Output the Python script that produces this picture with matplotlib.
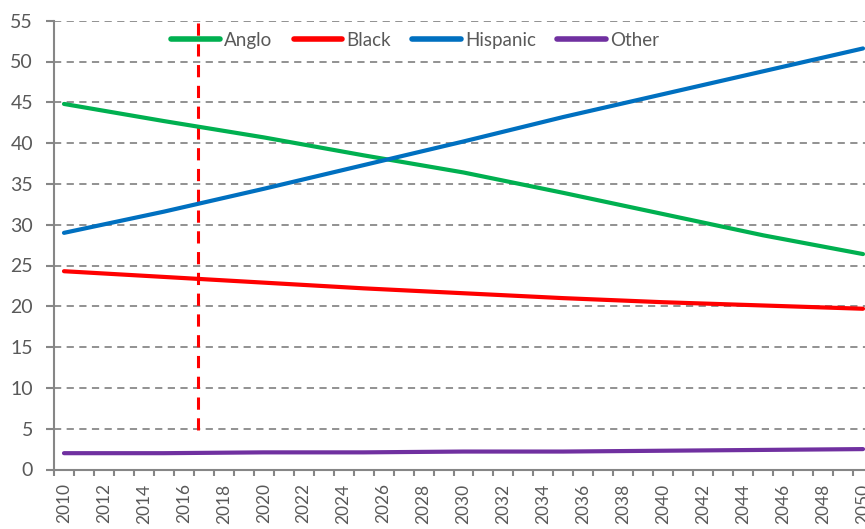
import matplotlib
matplotlib.use("Agg")
import matplotlib.pyplot as plt
from matplotlib.ticker import MultipleLocator, FixedLocator

# ===============================
# Dados (percentual da população)
# ===============================
years = [2010, 2015, 2020, 2025, 2030, 2035, 2040, 2045, 2050]
anglo = [44.8, 42.7, 40.7, 38.5, 36.4, 33.9, 31.3, 28.7, 26.4]
black = [24.3, 23.6, 22.9, 22.2, 21.6, 21.0, 20.5, 20.1, 19.7]
hispanic = [29.0, 31.6, 34.4, 37.3, 40.2, 43.2, 46.0, 48.8, 51.6]
other = [2.0, 2.0, 2.1, 2.1, 2.2, 2.2, 2.3, 2.4, 2.5]

marker_year = 2016.7
marker_bottom = 4.8

tick_years = list(range(2010, 2051, 2))

plt.rcParams["font.family"] = ["Lato", "DejaVu Sans"]
txt_color = "#595959"
axis_color = "#868686"

fig = plt.figure(figsize=(8.65, 5.29), dpi=100)
W, H = 865, 529
ax = fig.add_axes([54 / W, 1 - 469.5 / H, 819 / W, (469.5 - 20.7) / H])

ax.plot(years, anglo, color="#00B050", lw=3, label="Anglo", solid_capstyle="round")
ax.plot(years, black, color="#FF0000", lw=3, label="Black", solid_capstyle="round")
ax.plot(years, hispanic, color="#0070C0", lw=3, label="Hispanic", solid_capstyle="round")
ax.plot(years, other, color="#7030A0", lw=3, label="Other", solid_capstyle="round")

# linha vertical tracejada
ax.plot([marker_year, marker_year], [marker_bottom, 55], color="#FF0000", lw=2.2,
        linestyle=(0, (4, 2.8)), zorder=1)

ax.set_xlim(2009.5, 2050.5)
ax.set_ylim(0, 55)

ax.yaxis.set_major_locator(MultipleLocator(5))
ax.grid(True, axis="y", color="#898989", linestyle=(0, (4, 3)), lw=1.3)
ax.set_axisbelow(True)

ax.set_xticks(tick_years)
ax.set_xticklabels([str(y) for y in tick_years], rotation=90)
ax.xaxis.set_minor_locator(FixedLocator([y + 0.5 for y in range(2009, 2051)]))
ax.tick_params(axis="x", which="major", length=0, pad=10, labelsize=12.5, labelcolor=txt_color)
ax.tick_params(axis="x", which="minor", length=4, width=1.5, color=axis_color, direction="out")
ax.tick_params(axis="y", length=6, width=1.5, color=axis_color, pad=9, labelsize=14, labelcolor=txt_color)

for s in ["top", "right"]:
    ax.spines[s].set_visible(False)
for s in ["left", "bottom"]:
    ax.spines[s].set_color(axis_color)
    ax.spines[s].set_linewidth(1.5)

leg = ax.legend(loc="center", bbox_to_anchor=(415 / W, 1 - 40 / H), bbox_transform=fig.transFigure,
                ncol=4, frameon=False, fontsize=13.5, handlelength=2.6, handletextpad=0.2,
                columnspacing=1.15)
for t in leg.get_texts():
    t.set_color(txt_color)
for h in leg.get_lines():
    h.set_linewidth(4)

fig.savefig("out.png", dpi=100)
